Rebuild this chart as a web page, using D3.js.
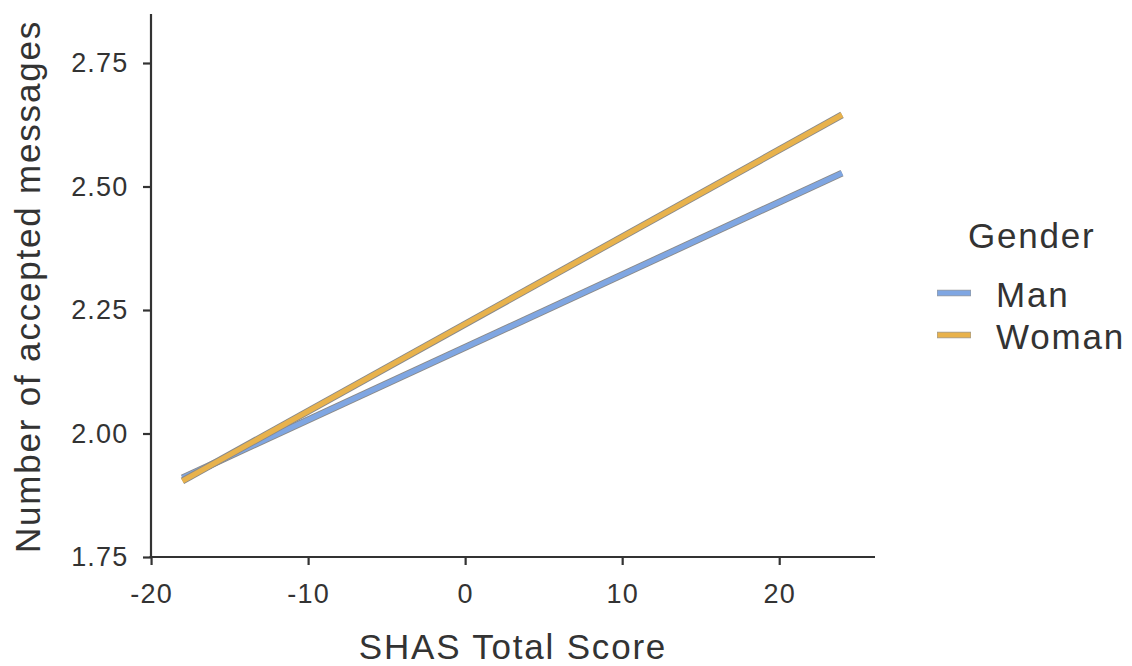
<!DOCTYPE html>
<html>
<head>
<meta charset="utf-8">
<script src="https://cdn.jsdelivr.net/npm/d3@7"></script>
<style>
  body { margin: 0; background: #fff; }
  svg { font-family: "Liberation Sans", Arial, sans-serif; }
</style>
</head>
<body>
<svg id="chart" width="1132" height="666"></svg>
<script>
// data
const groups = ["Man", "Woman"];
const colors = ["#7fa6e2", "#e8b24c"];
const shasRange = [-18, 24];
const manFit = [1.910, 2.527];
const womanFit = [1.904, 2.645];
const xTicks = [-20, -10, 0, 10, 20];
const yTicks = [1.75, 2.00, 2.25, 2.50, 2.75];

const series = [
    { key: groups[0], values: shasRange.map((x, i) => ({ x: x, y: manFit[i] })) },
    { key: groups[1], values: shasRange.map((x, i) => ({ x: x, y: womanFit[i] })) }
];

const svg = d3.select("#chart");
const panelLeft = 151, panelRight = 875, panelTop = 14, panelBottom = 557;

const x = d3.scaleLinear().domain([-20.1, 26.1]).range([panelLeft - 1.5, panelRight]);
const y = d3.scaleLinear().domain([1.75, 2.75]).range([panelBottom, 63]);

const z = d3.scaleOrdinal().domain(groups).range(colors);

// axes
const xAxis = g => g
    .attr("transform", `translate(0,${panelBottom})`)
    .call(d3.axisBottom(x).tickValues(xTicks).tickSize(8).tickPadding(19).tickFormat(d => String(d)))
    .call(g => g.select(".domain").attr("d", `M${panelLeft - 1.5},0H${panelRight}`))
    .call(g => g.selectAll("line").attr("stroke", "#333").attr("stroke-width", 2.2))
    .call(g => g.select(".domain").attr("stroke", "#333").attr("stroke-width", 2.2))
    .call(g => g.selectAll("text").attr("fill", "#333").style("font-size", "27px").style("letter-spacing", "1.2px"));

const yAxis = g => g
    .attr("transform", `translate(${panelLeft},0)`)
    .call(d3.axisLeft(y).tickValues(yTicks).tickSize(8).tickPadding(14.5).tickFormat(d3.format(".2f")))
    .call(g => g.select(".domain").attr("d", `M0,${panelTop}V${panelBottom + 1}`))
    .call(g => g.selectAll("line").attr("stroke", "#333").attr("stroke-width", 2.2))
    .call(g => g.select(".domain").attr("stroke", "#333").attr("stroke-width", 2.2))
    .call(g => g.selectAll("text").attr("fill", "#333").style("font-size", "27px").style("letter-spacing", "1.2px"));

svg.append("g").call(xAxis);
svg.append("g").call(yAxis);

// axis titles
svg.append("text")
    .attr("x", (panelLeft + panelRight) / 2)
    .attr("y", 659)
    .attr("text-anchor", "middle")
    .attr("fill", "#333")
    .style("font-size", "35px")
    .style("letter-spacing", "1.8px")
    .text("SHAS Total Score");

svg.append("text")
    .attr("transform", `translate(40,${(panelTop + panelBottom) / 2 + 1}) rotate(-90)`)
    .attr("text-anchor", "middle")
    .attr("fill", "#333")
    .style("font-size", "35px")
    .style("letter-spacing", "1.8px")
    .text("Number of accepted messages");

// fit lines
const line = d3.line().x(d => x(d.x)).y(d => y(d.y));

const lines = svg.append("g")
    .selectAll("g")
    .data(series)
    .join("g");

lines.append("path")
    .attr("d", d => line(d.values))
    .attr("fill", "none")
    .attr("stroke", "#8a8a8a")
    .attr("stroke-width", 7);

lines.append("path")
    .attr("d", d => line(d.values))
    .attr("fill", "none")
    .attr("stroke", d => z(d.key))
    .attr("stroke-width", 5.2);

// legend
const legend = svg.append("g").attr("transform", "translate(937,0)");

legend.append("text")
    .attr("x", 31)
    .attr("y", 248)
    .attr("fill", "#333")
    .style("font-size", "35px")
    .style("letter-spacing", "1.8px")
    .text("Gender");

const item = legend.selectAll("g.item")
    .data(groups)
    .join("g")
    .attr("class", "item")
    .attr("transform", (d, i) => `translate(0,${293 + i * 42})`);

item.append("line")
    .attr("x1", 0).attr("x2", 34)
    .attr("stroke", "#9a9a9a")
    .attr("stroke-width", 6.5);

item.append("line")
    .attr("x1", 0.5).attr("x2", 33.5)
    .attr("stroke", z)
    .attr("stroke-width", 5);

item.append("text")
    .attr("x", 59)
    .attr("y", 14)
    .attr("fill", "#333")
    .style("font-size", "35px")
    .style("letter-spacing", "1.8px")
    .text(d => d);
</script>
</body>
</html>
